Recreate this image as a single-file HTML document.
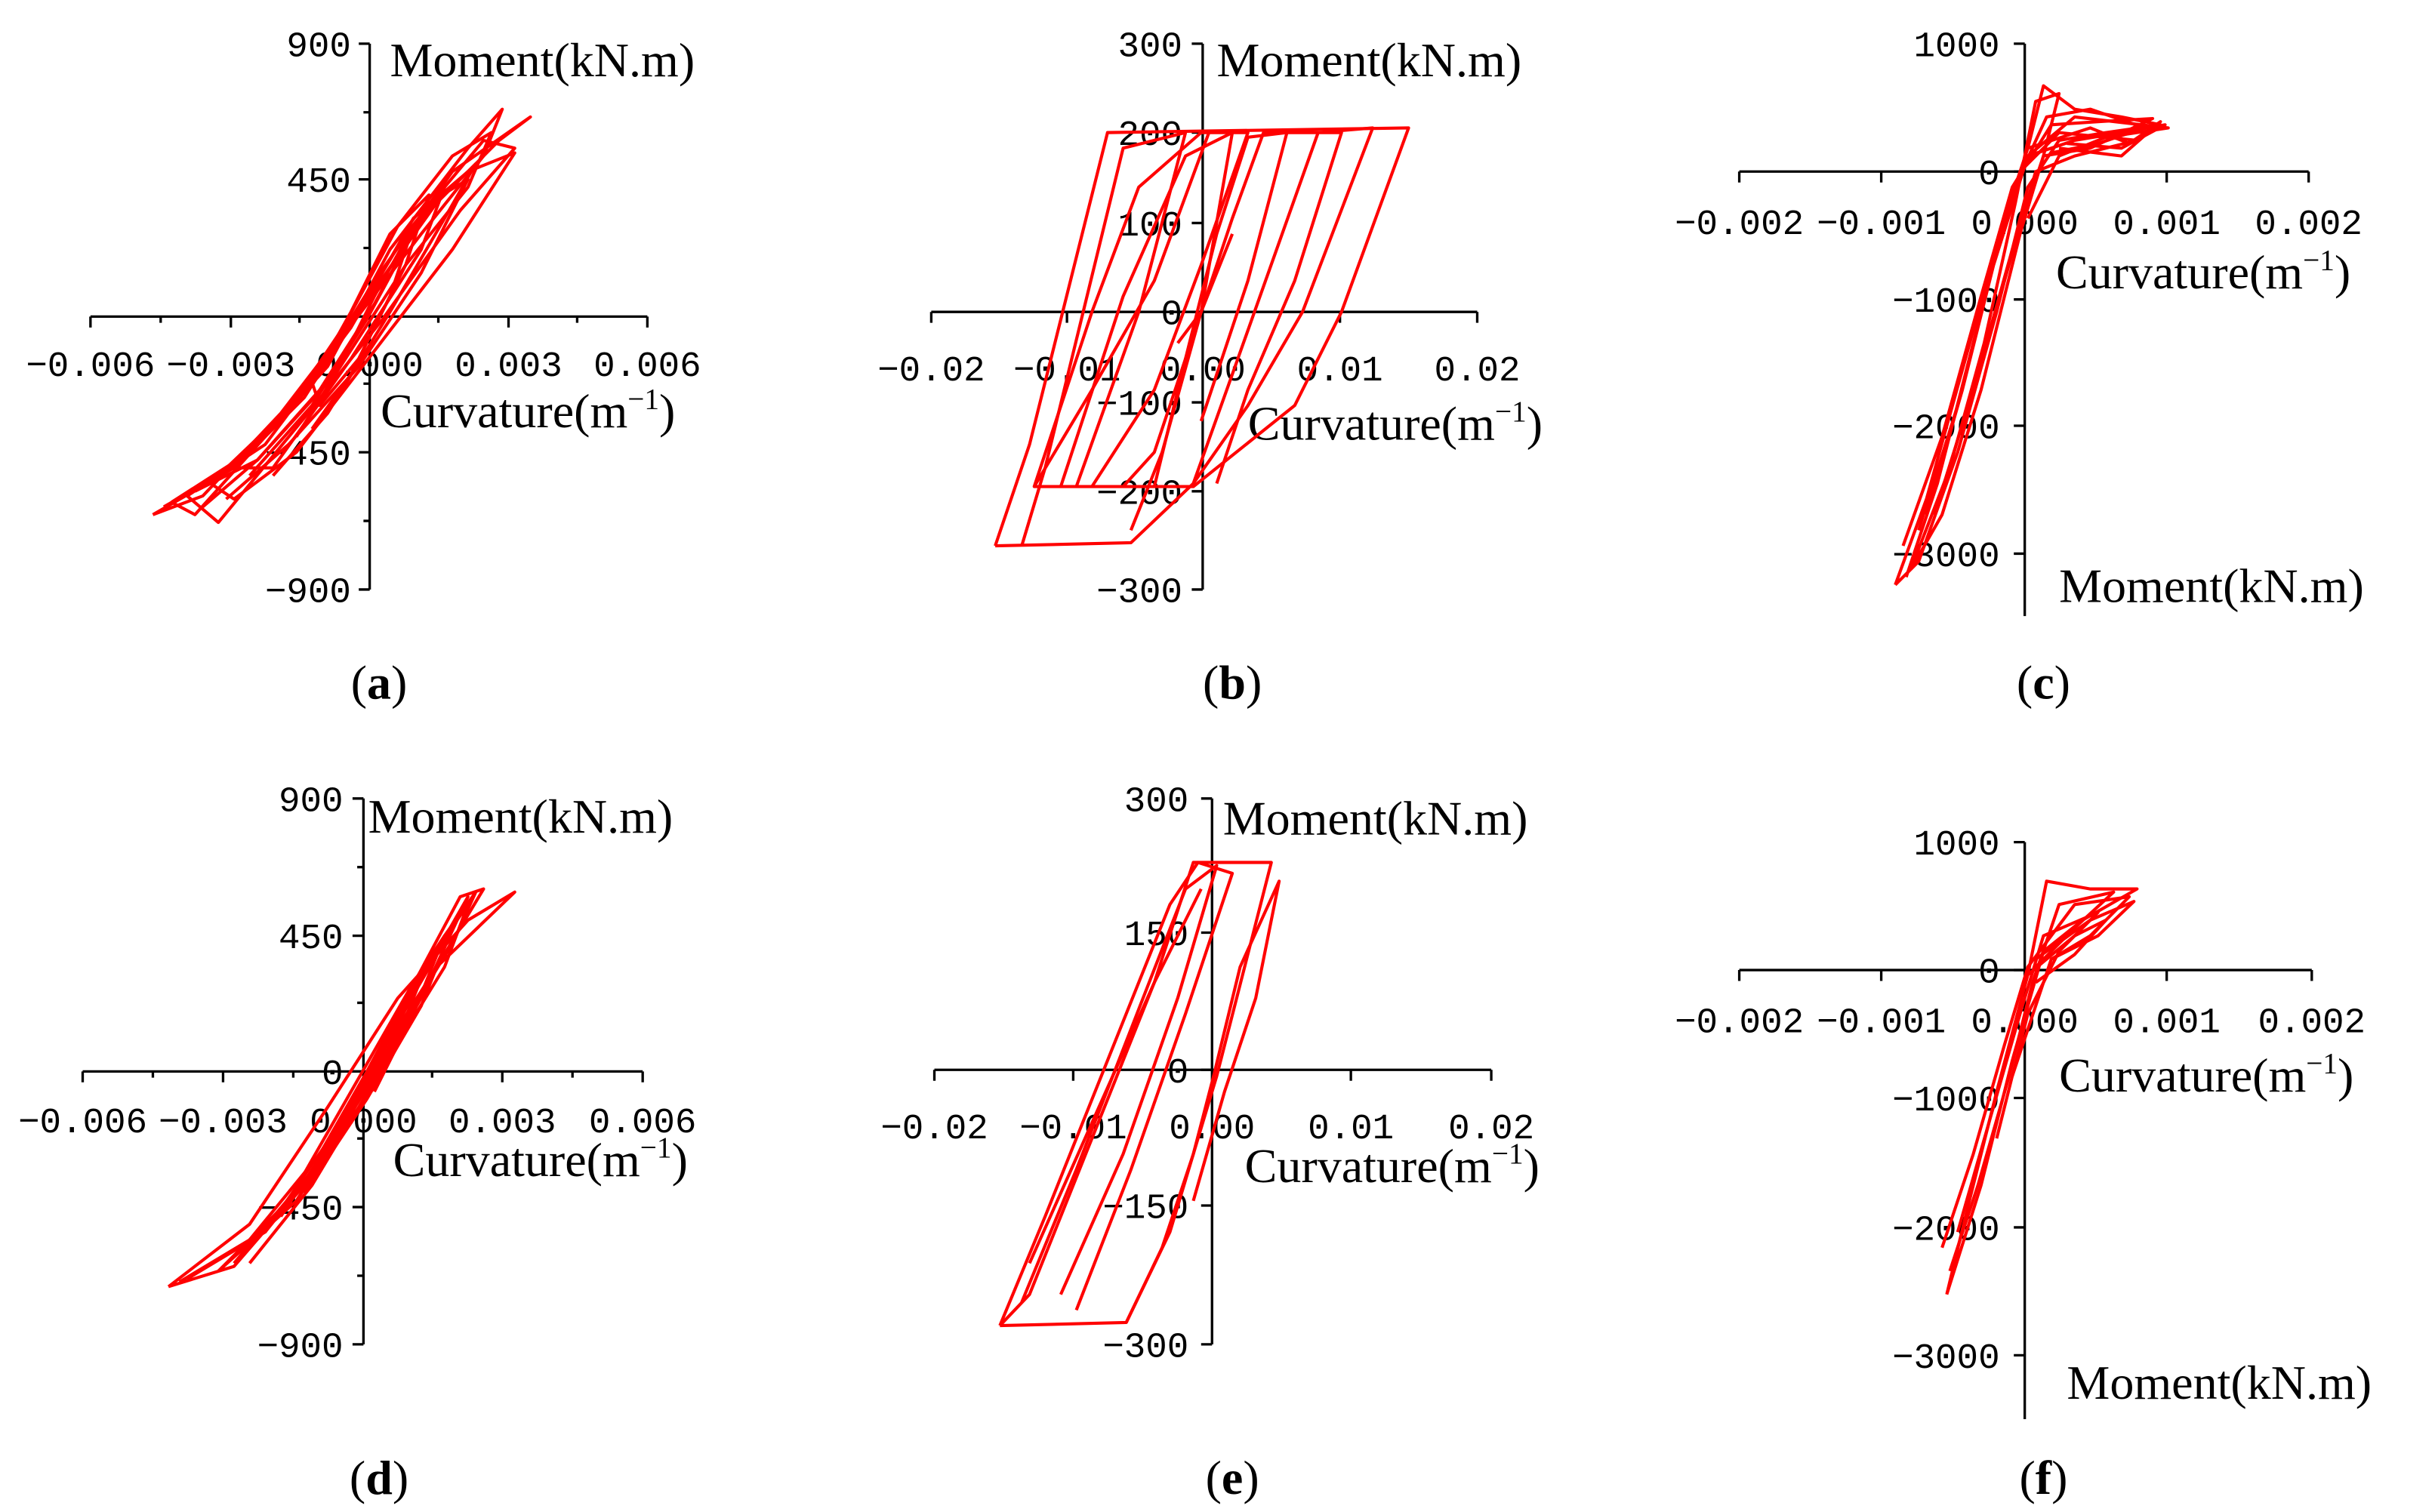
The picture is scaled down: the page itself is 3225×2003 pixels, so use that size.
<!DOCTYPE html>
<html><head><meta charset="utf-8"><style>
html,body{margin:0;padding:0;background:#fff;}
svg{display:block}
.ax{stroke:#000;stroke-width:1.6;fill:none}
.t{font-family:"Liberation Mono","DejaVu Sans Mono",monospace;font-size:23px;fill:#000}
.l{font-family:"Liberation Serif",serif;font-size:31px;fill:#000}
.p{font-family:"Liberation Serif",serif;font-size:31px;fill:#000}
.c{stroke:#ff0000;stroke-width:2;fill:none;stroke-linejoin:round}
</style></head><body>
<svg width="3225" height="2003" viewBox="0 0 1561 969.5" xmlns="http://www.w3.org/2000/svg">
<!-- (a) -->
<g>
<path class="ax" d="M237 28V378 M58 203H415"/>
<path class="ax" d="M230 28H237M230 115H237M230 203H237M230 290H237M230 378H237 M233 72H237M233 159H237M233 246H237M233 334H237 M58 203V210M148 203V210M326 203V210M415 203V210M103 203V207M192 203V207M281 203V207M370 203V207"/>
<text class="t" x="225" y="36" text-anchor="end">900</text>
<text class="t" x="225" y="123" text-anchor="end">450</text>
<text class="t" x="225" y="298" text-anchor="end">−450</text>
<text class="t" x="225" y="386" text-anchor="end">−900</text>
<text class="t" x="58" y="241" text-anchor="middle">−0.006</text>
<text class="t" x="148" y="241" text-anchor="middle">−0.003</text>
<text class="t" x="237" y="241" text-anchor="middle">0.000</text>
<text class="t" x="326" y="241" text-anchor="middle">0.003</text>
<text class="t" x="415" y="241" text-anchor="middle">0.006</text>
<text class="l" x="250" y="49">Moment(kN.m)</text>
<text class="l" x="244" y="274">Curvature(m<tspan dy="-12" font-size="19">−1</tspan><tspan dy="12">)</tspan></text>
<path class="c" d="M98 330L150 300 200 245 240 180 290 110 340 75 320 90 280 130 230 200 180 265 130 318 98 330"/>
<path class="c" d="M110 322L160 290 210 235 250 160 300 95 322 70 310 100 270 150 220 215 170 280 125 330 110 322"/>
<path class="c" d="M120 318L170 285 215 225 260 150 310 90 330 95 295 135 245 205 195 268 140 335 120 318"/>
<path class="c" d="M135 310L180 270 225 210 265 140 300 110 330 98 290 160 240 225 190 290 150 320 135 310"/>
<path class="c" d="M150 300L195 255 230 200 265 150 285 120 270 160 225 230 175 300 150 300"/>
<path class="c" d="M200 245L225 200 250 150 275 125 260 170 230 230 205 260 200 245"/>
<path class="c" d="M105 325L140 305 185 262 220 210 255 145 290 100 315 85 300 120 260 170 215 240 165 295 130 325"/>
<path class="c" d="M160 305L200 260 235 205 270 140 305 105 285 140 250 200 210 265 175 305"/>
<path class="c" d="M125 315L165 295 205 250 240 195 275 130 300 115 270 175 230 235 185 285 145 320"/>
<path class="c" d="M190 280L215 240 240 190 265 145 250 190 225 240 200 275"/>
</g>
<!-- (b) -->
<g>
<path class="ax" d="M771 28V378 M597 200H947"/>
<path class="ax" d="M764 28H771M764 85H771M764 143H771M764 200H771M764 258H771M764 315H771M764 378H771 M597 200V207M684 200V207M859 200V207M947 200V207"/>
<text class="t" x="758" y="36" text-anchor="end">300</text>
<text class="t" x="758" y="93" text-anchor="end">200</text>
<text class="t" x="758" y="151" text-anchor="end">100</text>
<text class="t" x="758" y="208" text-anchor="end">0</text>
<text class="t" x="758" y="266" text-anchor="end">−100</text>
<text class="t" x="758" y="323" text-anchor="end">−200</text>
<text class="t" x="758" y="386" text-anchor="end">−300</text>
<text class="t" x="597" y="244" text-anchor="middle">−0.02</text>
<text class="t" x="684" y="244" text-anchor="middle">−0.01</text>
<text class="t" x="771" y="244" text-anchor="middle">0.00</text>
<text class="t" x="859" y="244" text-anchor="middle">0.01</text>
<text class="t" x="947" y="244" text-anchor="middle">0.02</text>
<text class="l" x="780" y="49">Moment(kN.m)</text>
<text class="l" x="800" y="282">Curvature(m<tspan dy="-12" font-size="19">−1</tspan><tspan dy="12">)</tspan></text>
<path class="c" d="M638 350L660 285 710 85 903 82 860 200 830 260 765 312 663 312 700 250 740 180 775 85"/>
<path class="c" d="M638 350L725 348 765 310 790 240 845 85 880 82 835 200 800 260 765 310"/>
<path class="c" d="M655 350L670 300 720 95 760 85 730 200 690 312"/>
<path class="c" d="M663 312L700 200 730 120 770 85 800 85 770 170 740 250 700 312"/>
<path class="c" d="M680 312L720 190 760 100 790 85 770 200 740 290 720 312"/>
<path class="c" d="M740 312L760 230 780 150 800 88 825 85 800 180 770 270"/>
<path class="c" d="M725 340L745 290 770 200 790 140 810 85 860 85 830 180 800 250 780 310"/>
<path class="c" d="M755 220L770 200 790 150"/>
</g>
<!-- (c) -->
<g>
<path class="ax" d="M1298 28V395 M1115 110H1480"/>
<path class="ax" d="M1291 28H1298M1291 110H1298M1291 192H1298M1291 273H1298M1291 355H1298 M1115 110V117M1206 110V117M1389 110V117M1480 110V117"/>
<text class="t" x="1282" y="36" text-anchor="end">1000</text>
<text class="t" x="1282" y="118" text-anchor="end">0</text>
<text class="t" x="1282" y="200" text-anchor="end">−1000</text>
<text class="t" x="1282" y="281" text-anchor="end">−2000</text>
<text class="t" x="1282" y="363" text-anchor="end">−3000</text>
<text class="t" x="1115" y="150" text-anchor="middle">−0.002</text>
<text class="t" x="1206" y="150" text-anchor="middle">−0.001</text>
<text class="t" x="1298" y="150" text-anchor="middle">0.000</text>
<text class="t" x="1389" y="150" text-anchor="middle">0.001</text>
<text class="t" x="1480" y="150" text-anchor="middle">0.002</text>
<text class="l" x="1318" y="185">Curvature(m<tspan dy="-12" font-size="19">−1</tspan><tspan dy="12">)</tspan></text>
<text class="l" x="1320" y="386">Moment(kN.m)</text>
<path class="c" d="M1215 375L1235 320 1260 230 1285 140 1300 95 1310 55 1330 70 1360 75 1385 80 1350 85 1320 90 1300 120 1280 200 1255 290 1230 360 1215 375"/>
<path class="c" d="M1220 350L1245 280 1270 190 1290 120 1315 80 1345 78 1380 76 1340 95 1310 100 1290 160 1265 250 1240 330"/>
<path class="c" d="M1230 340L1255 260 1275 180 1295 110 1320 85 1370 90 1330 100 1305 110 1285 180 1260 270"/>
<path class="c" d="M1225 365L1250 300 1272 220 1292 130 1305 65 1320 60 1310 100 1295 150 1270 250 1245 330 1225 365"/>
<path class="c" d="M1300 95L1340 82 1365 92 1385 78 1360 100 1320 95"/>
<path class="c" d="M1222 370L1242 310 1265 220 1283 150 1296 110 1312 75 1340 70 1375 82 1345 92 1315 98"/>
<path class="c" d="M1235 330L1258 250 1278 170 1300 100 1330 75 1390 82 1350 88 1320 100 1300 140"/>
<path class="c" d="M1300 100L1330 90 1360 85 1388 80 1360 95 1325 92"/>
</g>
<!-- (d) -->
<g>
<path class="ax" d="M233 512V862 M53 687H412"/>
<path class="ax" d="M226 512H233M226 600H233M226 687H233M226 774H233M226 862H233 M229 556H233M229 643H233M229 730H233M229 818H233 M53 687V694M143 687V694M322 687V694M412 687V694M98 687V691M188 687V691M277 687V691M367 687V691"/>
<text class="t" x="220" y="520" text-anchor="end">900</text>
<text class="t" x="220" y="608" text-anchor="end">450</text>
<text class="t" x="220" y="695" text-anchor="end">0</text>
<text class="t" x="220" y="782" text-anchor="end">−450</text>
<text class="t" x="220" y="870" text-anchor="end">−900</text>
<text class="t" x="53" y="726" text-anchor="middle">−0.006</text>
<text class="t" x="143" y="726" text-anchor="middle">−0.003</text>
<text class="t" x="233" y="726" text-anchor="middle">0.000</text>
<text class="t" x="322" y="726" text-anchor="middle">0.003</text>
<text class="t" x="412" y="726" text-anchor="middle">0.006</text>
<text class="l" x="236" y="534">Moment(kN.m)</text>
<text class="l" x="252" y="754">Curvature(m<tspan dy="-12" font-size="19">−1</tspan><tspan dy="12">)</tspan></text>
<path class="c" d="M108 825L150 812 195 760 235 690 280 620 330 572 300 590 255 640 210 710 160 785 108 825"/>
<path class="c" d="M120 820L170 790 215 725 255 650 295 575 310 570 280 620 240 690 190 770 140 815"/>
<path class="c" d="M140 815L185 770 225 700 265 630 300 580 285 620 245 685 200 760 160 810"/>
<path class="c" d="M170 790L210 740 245 675 280 610 300 575 270 640 230 710 190 770"/>
<path class="c" d="M205 745L235 690 260 640 275 615 255 665 225 720"/>
<path class="c" d="M115 822L160 795 205 740 245 670 285 600 305 572 290 605 250 670 205 745 150 810"/>
<path class="c" d="M180 780L220 720 255 655 290 595 270 645 235 705 195 765"/>
<path class="c" d="M215 735L240 685 265 630 285 600 265 650 240 700"/>
</g>
<!-- (e) -->
<g>
<path class="ax" d="M777 512V862 M599 686H956"/>
<path class="ax" d="M770 512H777M770 598H777M770 686H777M770 773H777M770 862H777 M599 686V693M688 686V693M866 686V693M956 686V693"/>
<text class="t" x="762" y="520" text-anchor="end">300</text>
<text class="t" x="762" y="606" text-anchor="end">150</text>
<text class="t" x="762" y="694" text-anchor="end">0</text>
<text class="t" x="762" y="781" text-anchor="end">−150</text>
<text class="t" x="762" y="870" text-anchor="end">−300</text>
<text class="t" x="599" y="730" text-anchor="middle">−0.02</text>
<text class="t" x="688" y="730" text-anchor="middle">−0.01</text>
<text class="t" x="777" y="730" text-anchor="middle">0.00</text>
<text class="t" x="866" y="730" text-anchor="middle">0.01</text>
<text class="t" x="956" y="730" text-anchor="middle">0.02</text>
<text class="l" x="784" y="535">Moment(kN.m)</text>
<text class="l" x="798" y="758">Curvature(m<tspan dy="-12" font-size="19">−1</tspan><tspan dy="12">)</tspan></text>
<path class="c" d="M641 850L722 848 750 790 780 690 815 553 765 553 740 630 700 730 660 830 641 850"/>
<path class="c" d="M641 850L670 780 710 680 750 580 768 553 790 560 760 650 725 750 690 840"/>
<path class="c" d="M655 835L690 750 725 660 760 570 780 555 755 640 720 740 680 830"/>
<path class="c" d="M722 848L745 800 765 740 778 690 795 620 820 565 805 640 785 700 765 770"/>
<path class="c" d="M660 810L700 720 740 630 770 570"/>
</g>
<!-- (f) -->
<g>
<path class="ax" d="M1298 540V910 M1115 622H1482"/>
<path class="ax" d="M1291 540H1298M1291 622H1298M1291 704H1298M1291 787H1298M1291 869H1298 M1115 622V629M1206 622V629M1389 622V629M1482 622V629"/>
<text class="t" x="1282" y="548" text-anchor="end">1000</text>
<text class="t" x="1282" y="630" text-anchor="end">0</text>
<text class="t" x="1282" y="712" text-anchor="end">−1000</text>
<text class="t" x="1282" y="795" text-anchor="end">−2000</text>
<text class="t" x="1282" y="877" text-anchor="end">−3000</text>
<text class="t" x="1115" y="662" text-anchor="middle">−0.002</text>
<text class="t" x="1206" y="662" text-anchor="middle">−0.001</text>
<text class="t" x="1298" y="662" text-anchor="middle">0.000</text>
<text class="t" x="1389" y="662" text-anchor="middle">0.001</text>
<text class="t" x="1482" y="662" text-anchor="middle">0.002</text>
<text class="l" x="1320" y="700">Curvature(m<tspan dy="-12" font-size="19">−1</tspan><tspan dy="12">)</tspan></text>
<text class="l" x="1325" y="897">Moment(kN.m)</text>
<path class="c" d="M1248 830L1260 780 1280 700 1300 625 1312 565 1340 570 1370 570 1335 590 1310 610 1290 680 1270 760 1248 830"/>
<path class="c" d="M1245 800L1265 740 1285 670 1300 620 1330 580 1365 575 1340 600 1315 615 1290 690"/>
<path class="c" d="M1255 790L1275 720 1295 650 1310 600 1345 585 1320 610 1300 650 1280 730"/>
<path class="c" d="M1300 625L1330 600 1350 590 1330 612 1305 630"/>
<path class="c" d="M1250 815L1268 760 1288 690 1303 630 1320 580 1355 572 1330 595 1305 620"/>
<path class="c" d="M1305 615L1340 590 1368 578 1345 600 1315 615"/>
</g>
<text class="p" x="243" y="448" text-anchor="middle">(<tspan font-weight="bold">a</tspan>)</text>
<text class="p" x="790" y="448" text-anchor="middle">(<tspan font-weight="bold">b</tspan>)</text>
<text class="p" x="1310" y="448" text-anchor="middle">(<tspan font-weight="bold">c</tspan>)</text>
<text class="p" x="243" y="958" text-anchor="middle">(<tspan font-weight="bold">d</tspan>)</text>
<text class="p" x="790" y="958" text-anchor="middle">(<tspan font-weight="bold">e</tspan>)</text>
<text class="p" x="1310" y="958" text-anchor="middle">(<tspan font-weight="bold">f</tspan>)</text>
</svg>
</body></html>
